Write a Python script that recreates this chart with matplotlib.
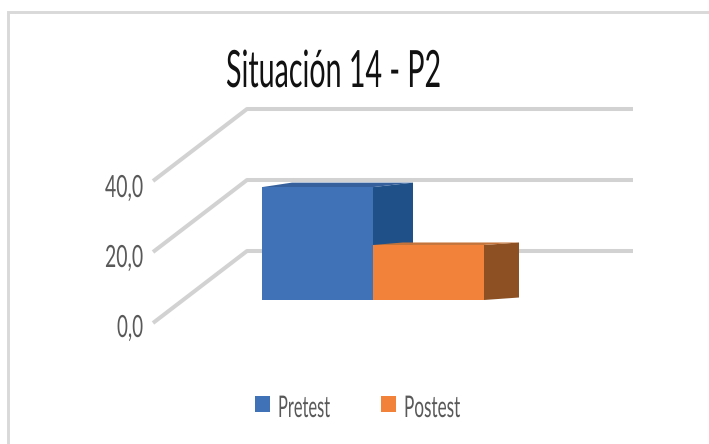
import matplotlib
matplotlib.use('Agg')
import matplotlib.pyplot as plt
import matplotlib.patheffects as pe
from matplotlib.patches import Polygon, Rectangle
from matplotlib.transforms import Affine2D

categories = ['Pretest', 'Postest']
values = [31.8, 15.5]
colors = ['#4072b8', '#f2823a']
side_colors = ['#1f5088', '#8c5022']
top_colors = ['#35609c', '#c4743a']
depths = [40, 35]
rises = [4.5, 2.5]
ticks = [0, 20, 40]
tick_labels = ['0,0', '20,0', '40,0']
title = 'Situación 14 - P2'

W, H = 709, 444
GRID = '#d2d2d2'
TEXT = '#595959'


class Narrow(pe.AbstractPathEffect):
    # squeeze the glyphs sideways, the reference font is a condensed one
    def __init__(self, sx):
        super().__init__()
        self.sx = sx

    def draw_path(self, renderer, gc, tpath, affine, rgbFace=None):
        renderer.draw_path(gc, tpath, Affine2D().scale(self.sx, 1) + affine, rgbFace)


def label(x0, x1, base, s, size, color):
    t = ax.text(x0, base, s, ha='left', va='baseline', color=color, fontsize=size,
                family='Lato', weight='normal', zorder=10)
    w = t.get_window_extent(fig.canvas.get_renderer()).width
    t.set_path_effects([Narrow((x1 - x0) / w)])
    return t


# pixels per value unit, and where zero sits on the front / back wall
scale = 3.55
bar_scale = 3.55
front_x, back_x, right_x = 153, 247, 633
zero_front, zero_back = 323, 251
bar_base, bar_left, bar_w = 300, 262, 111

fig = plt.figure(figsize=(W / 100, H / 100), dpi=100)
ax = fig.add_axes([0, 0, 1, 1])
ax.set_xlim(0, W)
ax.set_ylim(H, 0)
ax.axis('off')

# chart frame, only top and left edges are in the picture
ax.plot([8.3, 8.3, W], [H, 11.7, 11.7], color='#d9d9d9', lw=2.1, solid_joinstyle='miter')

for t, lab in zip(ticks, tick_labels):
    yf = zero_front - t * scale
    yb = zero_back - t * scale
    ax.plot([front_x, back_x, right_x], [yf, yb, yb], color=GRID, lw=2.9,
            solid_joinstyle='round', solid_capstyle='butt')
    left = 117 if t == 0 else 105
    label(left, 143, 337 - t * 3.5, lab, 22, TEXT)

for i, (v, c, s, tc, d, r) in enumerate(zip(values, colors, side_colors, top_colors, depths, rises)):
    x0 = bar_left + i * bar_w
    x1 = x0 + bar_w
    top = bar_base - v * bar_scale
    ax.add_patch(Polygon([(x1, top), (x1 + d, top - r), (x1 + d, bar_base - r), (x1, bar_base)],
                         fc=s, ec='none', zorder=3 + i))
    ax.add_patch(Polygon([(x0, top), (x0 + 30, top - r), (x1 + d, top - r), (x1, top)],
                         fc=tc, ec='none', zorder=3 + i))
    ax.add_patch(Rectangle((x0, top), bar_w, bar_base - top, fc=c, ec='none', zorder=4 + i))

label(226, 441, 87, title, 37, '#111111')

for x, x1, lab, c in zip([255, 381], [330, 460], categories, colors):
    ax.add_patch(Rectangle((x, 396), 15, 16, fc=c, ec='none'))
    label(x + 23, x1, 417, lab, 21.5, TEXT)

fig.savefig('out.png', dpi=100)
